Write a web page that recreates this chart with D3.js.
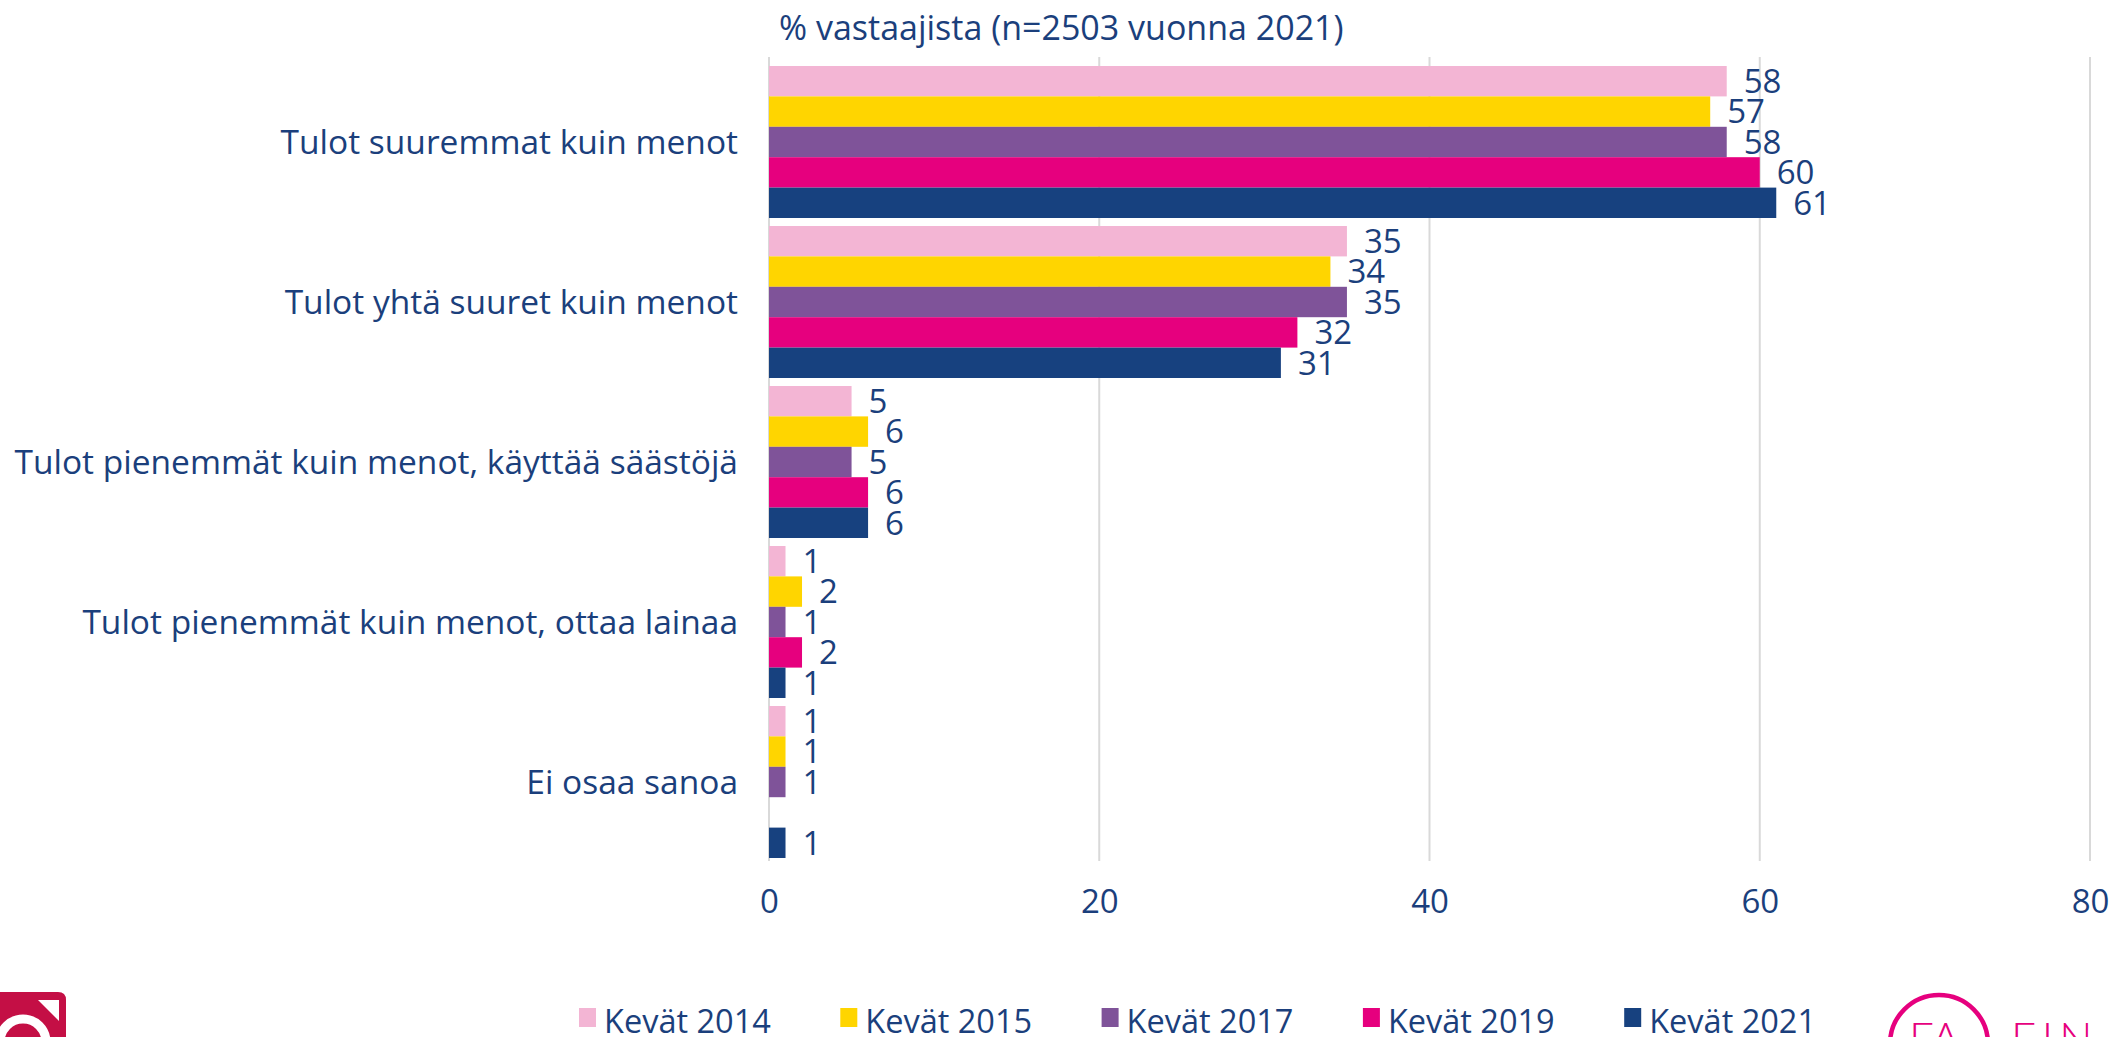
<!DOCTYPE html>
<html>
<head>
<meta charset="utf-8">
<script src="https://cdn.jsdelivr.net/npm/d3@7"></script>
<style>
  html, body { margin: 0; padding: 0; background: #fff; }
  svg { display: block; }
  text { font-family: "Open Sans", "Noto Sans", sans-serif; fill: #1B3F7C; }
</style>
</head>
<body>
<svg id="chart" width="2113" height="1037"></svg>
<script>
const categories = [
  "Tulot suuremmat kuin menot",
  "Tulot yhtä suuret kuin menot",
  "Tulot pienemmät kuin menot, käyttää säästöjä",
  "Tulot pienemmät kuin menot, ottaa lainaa",
  "Ei osaa sanoa"
];
const seriesNames = ["Kevät 2014", "Kevät 2015", "Kevät 2017", "Kevät 2019", "Kevät 2021"];
const seriesColors = ["#F3B5D4", "#FFD500", "#7F5399", "#E6007E", "#17417F"];
const values2014 = [58, 35, 5, 1, 1];
const values2015 = [57, 34, 6, 2, 1];
const values2017 = [58, 35, 5, 1, 1];
const values2019 = [60, 32, 6, 2, null];
const values2021 = [61, 31, 6, 1, 1];
const seriesValues = [values2014, values2015, values2017, values2019, values2021];
const xTicks = [0, 20, 40, 60, 80];
const titleText = "% vastaajista (n=2503 vuonna 2021)";

const svg = d3.select("#chart");

const x = d3.scaleLinear().domain([0, 80]).range([769, 2090]);
const y = d3.scaleBand().domain(categories).range([62, 862]).paddingInner(0.05).paddingOuter(0.025);
const ySub = d3.scaleBand().domain(seriesNames).range([0, y.bandwidth()]).padding(0);

// gridlines
svg.append("g").selectAll("line").data(xTicks).join("line")
  .attr("x1", d => x(d)).attr("x2", d => x(d))
  .attr("y1", 57).attr("y2", 861)
  .attr("stroke", "#D9D9D9").attr("stroke-width", 2);

// tick labels
const xAxis = d3.axisBottom(x).tickValues(xTicks).tickSize(0).tickPadding(0);
const gx = svg.append("g").attr("transform", "translate(0,901)").call(xAxis);
gx.select(".domain").remove();
gx.selectAll("text")
  .attr("font-size", 33).attr("fill", "#1B3F7C")
  .style("font-family", "'Open Sans', sans-serif")
  .attr("y", 0)
  .attr("dy", "0.36em");

// title
svg.append("text").attr("x", 779).attr("y", 28).attr("dy", "0.36em")
  .attr("font-size", 34).text(titleText);

// bars
const flat = [];
categories.forEach((c, ci) => {
  seriesNames.forEach((s, si) => {
    const v = seriesValues[si][ci];
    if (v !== null && v !== undefined) flat.push({ c, s, si, v });
  });
});

const gBars = svg.append("g");
gBars.selectAll("rect").data(flat).join("rect")
  .attr("x", x(0))
  .attr("y", d => y(d.c) + ySub(d.s))
  .attr("width", d => x(d.v) - x(0))
  .attr("height", ySub.bandwidth())
  .attr("fill", d => seriesColors[d.si]);

gBars.selectAll("text").data(flat).join("text")
  .attr("x", d => x(d.v) + 17)
  .attr("y", d => y(d.c) + ySub(d.s) + ySub.bandwidth() / 2)
  .attr("dy", "0.36em")
  .attr("font-size", 33)
  .text(d => d.v);

// category labels
svg.append("g").selectAll("text").data(categories).join("text")
  .attr("x", 738)
  .attr("y", d => y(d) + y.bandwidth() / 2)
  .attr("dy", "0.36em")
  .attr("text-anchor", "end")
  .attr("font-size", 33.5)
  .text(d => d);

// legend
const legend = svg.append("g");
const legItems = legend.selectAll("g").data(seriesNames).join("g")
  .attr("transform", (d, i) => `translate(${579 + i * 261.3},0)`);
legItems.append("rect").attr("x", 0).attr("y", 1008).attr("width", 17).attr("height", 19)
  .attr("fill", (d, i) => seriesColors[i]);
legItems.append("text").attr("x", 25).attr("y", 1021).attr("dy", "0.36em")
  .attr("font-size", 32.5).text(d => d);

// left logo (partial)
const ll = svg.append("g");
ll.append("path")
  .attr("d", "M0,992 L58,992 Q66,992 66,1000 L66,1037 L0,1037 Z")
  .attr("fill", "#C40F45");
ll.append("path").attr("d", "M38,1000 L59,1000 L59,1021 Z").attr("fill", "#fff");
ll.append("circle").attr("cx", 23).attr("cy", 1042).attr("r", 23)
  .attr("fill", "none").attr("stroke", "#fff").attr("stroke-width", 9);

// right logo (partial)
const rl = svg.append("g");
rl.append("circle").attr("cx", 1939).attr("cy", 1044).attr("r", 49)
  .attr("fill", "none").attr("stroke", "#E6007E").attr("stroke-width", 4.5);
rl.append("text").attr("x", 1909).attr("y", 1054).attr("font-size", 44)
  .style("font-family", "Lato, sans-serif").style("font-weight", 300)
  .style("fill", "#E6007E").text("FA");
rl.append("text").attr("x", 2011).attr("y", 1054).attr("font-size", 44)
  .style("font-family", "Lato, sans-serif").style("font-weight", 300)
  .style("letter-spacing", "6px")
  .style("fill", "#E6007E").text("FIN");
</script>
</body>
</html>
